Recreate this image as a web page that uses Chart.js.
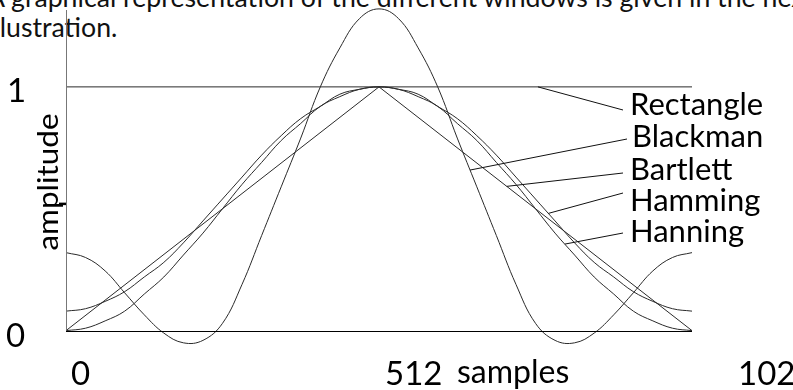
<!DOCTYPE html>
<html>
<head>
<meta charset="utf-8">
<script src="https://cdn.jsdelivr.net/npm/chart.js@4.4.1/dist/chart.umd.min.js"></script>
<style>
    body { margin: 0; background: #fff; overflow: hidden; }
    #wrap { position: relative; width: 793px; height: 390px; overflow: hidden; }
    #intro {
        position: absolute; left: -13px; top: -18px;
        font: 26.7px Lato, sans-serif; line-height: 30px; color: #111;
        white-space: nowrap;
    }
    canvas { position: absolute; left: 0; top: 0; }
</style>
</head>
<body>
<div id="wrap">
    <div id="intro">A graphical representation of the different windows is given in the next<br>illustration.</div>
    <canvas id="winChart" width="793" height="390"></canvas>
</div>
<script>
// Дані (відліки вікна 0..1024, крок 32)
const SAMPLES = [0, 32, 64, 96, 128, 160, 192, 224, 256, 288, 320, 352, 384, 416, 448, 480, 512,
                 544, 576, 608, 640, 672, 704, 736, 768, 800, 832, 864, 896, 928, 960, 992, 1024];
const HANNING = [0, 0.01, 0.04, 0.08, 0.15, 0.22, 0.31, 0.40, 0.50, 0.60, 0.69, 0.78, 0.85, 0.92, 0.96, 0.99, 1.00,
                 0.99, 0.96, 0.92, 0.85, 0.78, 0.69, 0.60, 0.50, 0.40, 0.31, 0.22, 0.15, 0.08, 0.04, 0.01, 0];
const HAMMING = [0.08, 0.09, 0.12, 0.16, 0.22, 0.28, 0.36, 0.45, 0.54, 0.63, 0.72, 0.80, 0.87, 0.92, 0.97, 0.99, 1.00,
                 0.99, 0.97, 0.92, 0.87, 0.80, 0.72, 0.63, 0.54, 0.45, 0.36, 0.28, 0.22, 0.16, 0.12, 0.09, 0.08];
const BLACKMAN = [0.32, 0.30, 0.245, 0.155, 0.065, -0.01, -0.05, -0.04, 0.03, 0.19, 0.39, 0.59, 0.79, 1.00, 1.16, 1.28, 1.32,
                  1.28, 1.16, 1.00, 0.79, 0.59, 0.39, 0.19, 0.03, -0.04, -0.05, -0.01, 0.065, 0.155, 0.245, 0.30, 0.32];
const BARTLETT_X = [0, 512, 1024];
const BARTLETT = [0, 1, 0];
const RECT_X = [0, 1024];
const RECTANGLE = [1, 1];

const X_TICKS = [0, 512, 1024];
const Y_TICKS = [0, 1];
const X_TITLE = 'samples';
const Y_TITLE = 'amplitude';
const LABELS = ['Rectangle', 'Blackman', 'Bartlett', 'Hamming', 'Hanning'];

const LINE = '#2a2a2a';
const FONT = 'Lato, sans-serif';

function pts(xs, ys) {
    return xs.map((x, i) => ({ x: x, y: ys[i] }));
}

function curve(data, smooth) {
    return {
        data: data,
        borderColor: LINE,
        borderWidth: 1,
        pointRadius: 0,
        fill: false,
        tension: smooth ? 0.4 : 0
    };
}

// Підписи з виносками: точка на кривій (дані) -> кінець виноски (пікселі)
const callouts = [
    { ds: 0, n: 772, end: [623, 110], text: [630, 115] },
    { ds: 1, n: 661, end: [627, 139], text: [632, 147] },
    { ds: 2, n: 721, end: [623, 173], text: [630, 180] },
    { ds: 3, n: 789, end: [623, 193], text: [630, 211] },
    { ds: 4, n: 816, end: [623, 233], text: [630, 242] }
];

// Значення кривої в точці n (лінійно між відліками даних)
function valueAt(data, n) {
    for (let i = 0; i < data.length - 1; i++) {
        if (n >= data[i].x && n <= data[i + 1].x) {
            const t = (n - data[i].x) / (data[i + 1].x - data[i].x);
            return data[i].y + t * (data[i + 1].y - data[i].y);
        }
    }
    return data[data.length - 1].y;
}

const decor = {
    id: 'decor',
    afterDraw(chart) {
        const c = chart.ctx;
        const xs = chart.scales.x, ys = chart.scales.y;
        const x0 = xs.getPixelForValue(0), x1 = xs.getPixelForValue(1024);
        const yZero = ys.getPixelForValue(0);
        c.save();

        // осі
        c.lineWidth = 1;
        c.strokeStyle = '#777';
        c.beginPath();
        c.moveTo(Math.round(x0) + 0.5, 10);
        c.lineTo(Math.round(x0) + 0.5, yZero);
        c.stroke();
        c.strokeStyle = '#000';
        c.beginPath();
        c.moveTo(x0, Math.round(yZero) + 0.5);
        c.lineTo(x1, Math.round(yZero) + 0.5);
        c.stroke();
        // маленька риска на осі Y
        c.lineWidth = 2.5;
        c.beginPath();
        c.moveTo(x0 - 7, ys.getPixelForValue(0.52));
        c.lineTo(x0, ys.getPixelForValue(0.52));
        c.stroke();

        c.fillStyle = '#000';
        c.textBaseline = 'alphabetic';

        // мітки осі Y
        c.font = '33px ' + FONT;
        c.textAlign = 'left';
        c.fillText(String(Y_TICKS[1]), 7, ys.getPixelForValue(Y_TICKS[1]) + 15);
        c.fillText(String(Y_TICKS[0]), 6, ys.getPixelForValue(Y_TICKS[0]) + 16);

        // мітки осі X
        const xBase = 385;
        c.fillText(String(X_TICKS[0]), xs.getPixelForValue(X_TICKS[0]) + 5, xBase);
        c.fillText(String(X_TICKS[1]), xs.getPixelForValue(X_TICKS[1]) + 6, xBase);
        c.fillText(String(X_TICKS[2]), xs.getPixelForValue(X_TICKS[2]) + 46, xBase);
        c.font = '32px ' + FONT;
        c.fillText(X_TITLE, xs.getPixelForValue(X_TICKS[1]) + 78, xBase - 2);

        // назва осі Y (розтягнута по довжині, як у скані)
        c.save();
        c.font = '29px ' + FONT;
        const w = c.measureText(Y_TITLE).width;
        c.translate(58, 182);
        c.rotate(-Math.PI / 2);
        c.scale(137 / w, 1);
        c.textAlign = 'center';
        c.fillText(Y_TITLE, 0, 0);
        c.restore();

        // виноски та назви вікон
        c.lineWidth = 1;
        c.strokeStyle = '#111';
        c.font = '31px ' + FONT;
        c.textAlign = 'left';
        callouts.forEach((co, i) => {
            const data = chart.data.datasets[co.ds].data;
            const ax = xs.getPixelForValue(co.n);
            const ay = ys.getPixelForValue(valueAt(data, co.n));
            c.beginPath();
            c.moveTo(ax, ay);
            c.lineTo(co.end[0], co.end[1]);
            c.stroke();
            c.fillText(LABELS[i], co.text[0], co.text[1]);
        });
        c.restore();
    }
};

const ctx = document.getElementById('winChart').getContext('2d');
const chart = new Chart(ctx, {
    type: 'line',
    data: {
        datasets: [
            curve(pts(RECT_X, RECTANGLE), false),
            curve(pts(SAMPLES, BLACKMAN), true),
            curve(pts(BARTLETT_X, BARTLETT), false),
            curve(pts(SAMPLES, HAMMING), true),
            curve(pts(SAMPLES, HANNING), true)
        ]
    },
    options: {
        responsive: false,
        animation: false,
        layout: { padding: { left: 66, right: 101, top: 4, bottom: 35 } },
        scales: {
            x: { type: 'linear', min: 0, max: 1024, display: false },
            y: { min: -0.1, max: 1.34, display: false }
        },
        plugins: { legend: { display: false }, tooltip: { enabled: false } }
    },
    plugins: [decor]
});
</script>
</body>
</html>
